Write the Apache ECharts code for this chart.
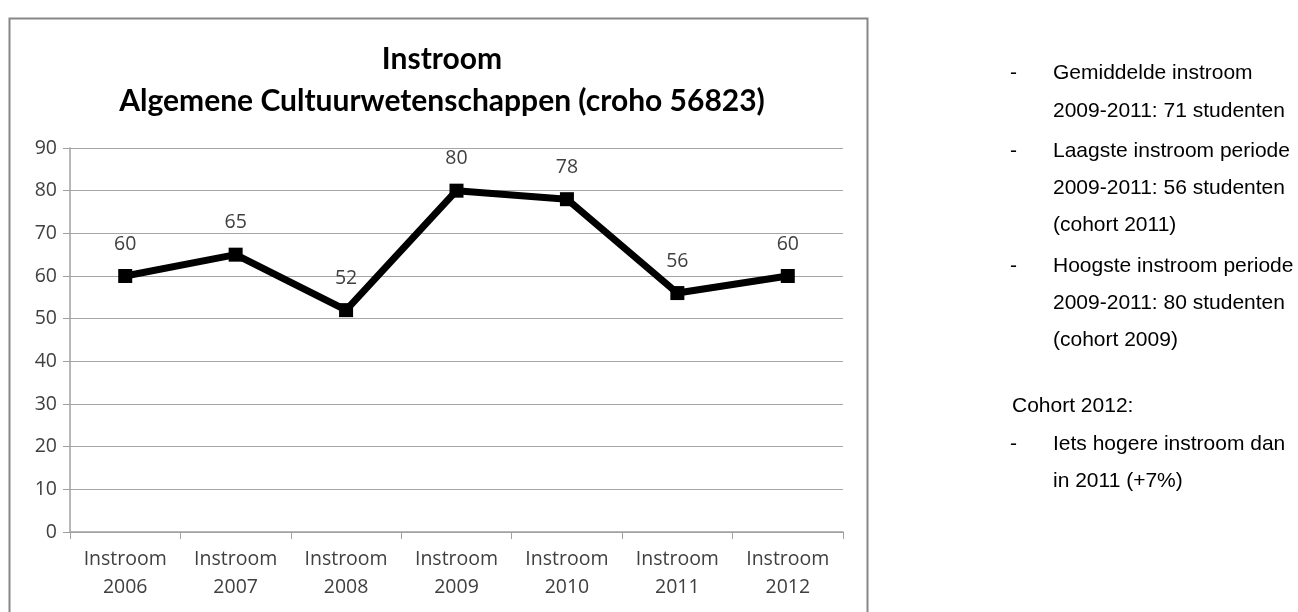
<!DOCTYPE html>
<html>
<head>
<meta charset="utf-8">
<script src="https://cdn.jsdelivr.net/npm/echarts@6/dist/echarts.min.js"></script>
<style>
html, body { margin: 0; padding: 0; background: #fff; }
#chart { width: 1298px; height: 612px; }
</style>
</head>
<body>
<div id="chart"></div>
<script>
const categories = ["Instroom\n2006", "Instroom\n2007", "Instroom\n2008", "Instroom\n2009", "Instroom\n2010", "Instroom\n2011", "Instroom\n2012"];
const instroom = [60, 65, 52, 80, 78, 56, 60];
const titleLines = ["Instroom", "Algemene Cultuurwetenschappen (croho 56823)"];
const notes = [
    ["-", "Gemiddelde instroom", "2009-2011: 71 studenten"],
    ["-", "Laagste instroom periode", "2009-2011: 56 studenten", "(cohort 2011)"],
    ["-", "Hoogste instroom periode", "2009-2011: 80 studenten", "(cohort 2009)"]
];
const cohortHead = "Cohort 2012:";
const cohortNote = ["-", "Iets hogere instroom dan", "in 2011 (+7%)"];

let chart = echarts.init(document.getElementById("chart"));

const sideFont = "21px 'Liberation Sans'";
// right hand side text block
let side = [];
let y = 75;
notes.forEach(function (n) {
    side.push({ type: "text", left: 1010, top: y - 12, style: { text: n[0], font: sideFont, fill: "#000" } });
    for (let i = 1; i < n.length; i++) {
        side.push({ type: "text", left: 1053, top: y - 12, style: { text: n[i], font: sideFont, fill: "#000" } });
        y += 37.3;
    }
    y += 3;
});
side.push({ type: "text", left: 1012, top: 396, style: { text: cohortHead, font: sideFont, fill: "#000" } });
side.push({ type: "text", left: 1010, top: 434, style: { text: cohortNote[0], font: sideFont, fill: "#000" } });
side.push({ type: "text", left: 1053, top: 434, style: { text: cohortNote[1], font: sideFont, fill: "#000" } });
side.push({ type: "text", left: 1053, top: 471, style: { text: cohortNote[2], font: sideFont, fill: "#000" } });

chart.setOption({
    animation: false,
    title: {
        text: titleLines.join("\n"),
        left: 437,
        top: 33,
        textAlign: "center",
        textStyle: {
            color: "#000",
            fontFamily: "Lato",
            fontWeight: "bold",
            fontSize: 30,
            lineHeight: 42
        }
    },
    graphic: [
        {
            type: "rect",
            shape: { x: 9.5, y: 18.5, width: 858, height: 620 },
            style: { fill: "none", stroke: "#878787", lineWidth: 2 }
        }
    ].concat(side),
    grid: {
        left: 70,
        right: 1298 - 843,
        top: 148,
        bottom: 612 - 532
    },
    xAxis: {
        type: "category",
        data: categories,
        boundaryGap: true,
        axisLine: { lineStyle: { color: "#a0a0a0", width: 1.5 } },
        axisTick: { show: true, length: 7, lineStyle: { color: "#a0a0a0" } },
        axisLabel: {
            color: "#404040",
            fontFamily: "Open Sans",
            fontSize: 19.5,
            lineHeight: 28,
            margin: 13
        }
    },
    yAxis: {
        type: "value",
        min: 0,
        max: 90,
        interval: 10,
        axisLine: { show: true, lineStyle: { color: "#a0a0a0", width: 1.5 } },
        axisTick: { show: true, length: 7, lineStyle: { color: "#a0a0a0" } },
        splitLine: { lineStyle: { color: "#a6a6a6", width: 1.2 } },
        axisLabel: {
            color: "#404040",
            fontFamily: "Open Sans",
            fontSize: 19.5,
            margin: 13
        }
    },
    series: [
        {
            name: "Instroom",
            type: "line",
            data: instroom,
            symbol: "rect",
            symbolSize: 14,
            lineStyle: { color: "#000", width: 7 },
            itemStyle: { color: "#000" },
            label: {
                show: true,
                position: "top",
                distance: 15,
                color: "#404040",
                fontFamily: "Open Sans",
                fontSize: 19.5
            }
        }
    ]
});
</script>
</body>
</html>
